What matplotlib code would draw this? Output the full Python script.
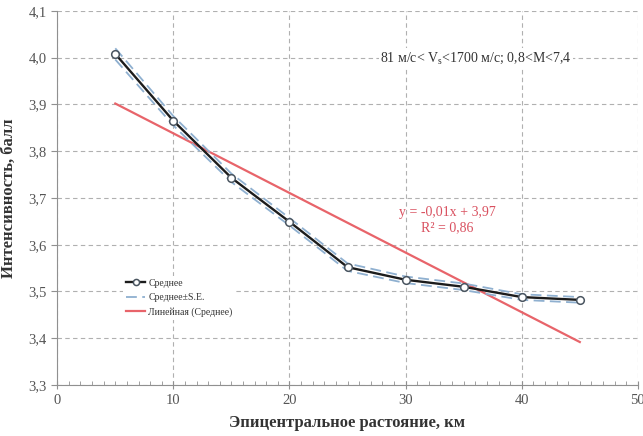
import numpy as np
import matplotlib.pyplot as plt
from matplotlib.ticker import MultipleLocator, FuncFormatter

# эпицентральное расстояние и средняя интенсивность
dist = [5, 10, 15, 20, 25, 30, 35, 40, 45]
mean_int = [4.008, 3.865, 3.743, 3.649, 3.552, 3.525, 3.510, 3.488, 3.482]
se = [0.012, 0.010, 0.009, 0.008, 0.008, 0.007, 0.007, 0.006, 0.006]

x = np.array(dist)
y = np.array(mean_int)
e = np.array(se)

# линейный тренд
k, b = np.polyfit(x, y, 1)

plt.rcParams['font.family'] = ['Liberation Serif', 'DejaVu Serif']

fig = plt.figure(figsize=(6.43, 4.36), dpi=100)
ax = fig.add_axes([0.089, 0.117, 0.903, 0.858])

ax.plot(x, y + e, ls=(0, (6, 3)), color='#8fb0d0', lw=1.3, zorder=3)
ax.plot(x, y - e, ls=(0, (6, 3)), color='#8fb0d0', lw=1.3, zorder=3,
        label='Среднее±S.E.')
ax.plot(x, y, color='#1c1c1c', lw=1.7, marker='o', ms=5.5, mfc='white',
        mec='#4a5560', mew=1.1, zorder=4, label='Среднее')
ax.plot(x, k * x + b, color='#e8646a', lw=1.6, zorder=2,
        label='Линейная (Среднее)')

ax.set_xlim(0, 50)
ax.set_ylim(3.3, 4.1)
ax.xaxis.set_major_locator(MultipleLocator(10))
ax.xaxis.set_minor_locator(MultipleLocator(1))
ax.yaxis.set_major_locator(MultipleLocator(0.1))
ax.yaxis.set_major_formatter(FuncFormatter(lambda v, p: f'{v:.1f}'.replace('.', ',')))

ax.grid(True, which='major', ls=(0, (4, 3)), color='#b0b0b0', lw=0.8)
for s in ['top', 'right']:
    ax.spines[s].set_visible(False)
for s in ['left', 'bottom']:
    ax.spines[s].set_color('#909090')
ax.tick_params(axis='both', which='major', labelsize=10.5, colors='#909090',
               labelcolor='#555555', length=4)
ax.tick_params(axis='x', which='major', direction='inout', length=6)
ax.tick_params(axis='x', which='minor', direction='in', length=3, colors='#909090')
ax.tick_params(axis='y', which='major', direction='out', length=4)

ax.set_xlabel('Эпицентральное растояние, км', fontsize=12, fontweight='bold',
              color='#333333', labelpad=6)
ax.set_ylabel('Интенсивность, балл', fontsize=12, fontweight='bold',
              color='#333333', labelpad=8)

ax.text(27.8, 4.0, '81 м/с< V$_\\mathregular{s}$<1700 м/с; 0,8<M<7,4', fontsize=10,
        color='#333333', va='center', ha='left',
        bbox=dict(facecolor='white', edgecolor='none', pad=1), zorder=5)

ax.text(33.6, 3.668, 'y = -0,01x + 3,97', fontsize=10, color='#d9505f',
        ha='center', va='center')
ax.text(33.6, 3.636, 'R² = 0,86', fontsize=10, color='#d9505f',
        ha='center', va='center')

handles, labels = ax.get_legend_handles_labels()
order = [1, 0, 2]
leg = ax.legend([handles[i] for i in order], [labels[i] for i in order],
                loc='upper left', bbox_to_anchor=(0.105, 0.305), fontsize=7,
                frameon=True, framealpha=1, edgecolor='none', handlelength=2.0,
                handletextpad=0.3, markerscale=0.8,
                borderpad=0.3, labelspacing=0.55)
leg.set_zorder(6)
for t in leg.get_texts():
    t.set_color('#333333')

plt.savefig('out.png', dpi=100)
